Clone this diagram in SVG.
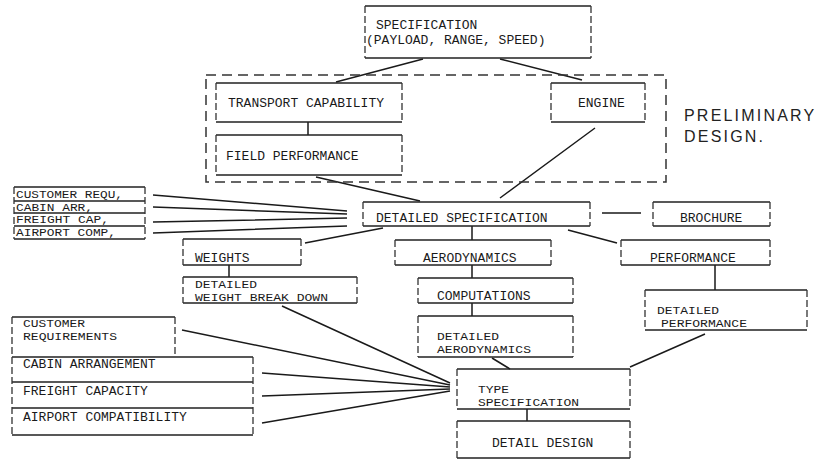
<svg xmlns="http://www.w3.org/2000/svg" width="817" height="466" viewBox="0 0 817 466">
<style>
.h{stroke:#222;stroke-width:1.6;fill:none}
.v{stroke:#333;stroke-width:1.3;fill:none;stroke-dasharray:7 3}
.c{stroke:#1a1a1a;stroke-width:1.5;fill:none}
.t{font-family:"Liberation Mono","DejaVu Sans Mono",monospace;font-size:13px;fill:#1a1a1a}
.s{font-family:"Liberation Mono","DejaVu Sans Mono",monospace;font-size:11.5px;fill:#1a1a1a}
.m{font-family:"Liberation Mono","DejaVu Sans Mono",monospace;font-size:10.5px;fill:#1a1a1a}
.hand{font-family:"Liberation Sans","DejaVu Sans",sans-serif;font-size:16px;fill:#222;letter-spacing:2.2px}
</style>
<rect width="817" height="466" fill="#fff"/>
<g id="connectors">
<path class="c" d="M423 59L336 82M500 59L582 80M308 122V135M316 177L420 201M595 128L500 198"/>
<path class="c" d="M153 195L347 211M153 207L347 214M153 222L347 218M153 233L347 226"/>
<path class="c" d="M383 228L305 243M472 226V240M568 230L617 243M602 213H641M715 265V290M705 334L630 367M472 265V278M472 303V316M492 358L510 369M527 409V421M229 265V277"/>
<path class="c" d="M282 306L450 383M182 330L450 385M262 373L450 387M262 396L450 389M262 423L450 391"/>
</g>
<g id="preliminary">
<rect x="206" y="75" width="460" height="107" fill="none" stroke="#333" stroke-width="1.5" stroke-dasharray="10 6"/>
<text class="hand" x="684" y="121">PRELIMINARY</text>
<text class="hand" x="684" y="142">DESIGN.</text>
</g>
<g id="spec">
<path class="h" d="M365 6H591M365 58H591"/><path class="v" d="M365 6V58M591 6V58"/>
<text class="t" x="376" y="29">SPECIFICATION</text>
<text class="t" x="366" y="44">(PAYLOAD, RANGE, SPEED)</text>
</g>
<g id="transport">
<path class="h" d="M216 83H402M216 122H402"/><path class="v" d="M216 83V122M402 83V122"/>
<text class="t" x="228" y="107">TRANSPORT CAPABILITY</text>
</g>
<g id="field">
<path class="h" d="M216 135H402M216 175H402"/><path class="v" d="M216 135V175M402 135V175"/>
<text class="t" x="226" y="160">FIELD PERFORMANCE</text>
</g>
<g id="engine">
<path class="h" d="M551 83H645M551 122H645"/><path class="v" d="M551 83V122M645 83V122"/>
<text class="t" x="578" y="107">ENGINE</text>
</g>
<g id="inputs-small">
<path class="h" d="M14 187H145M14 201H145M14 213H145M14 226H145M14 239H145"/><path class="v" d="M14 187V239M145 187V239"/>
<text class="m" x="16" y="198" textLength="107" lengthAdjust="spacingAndGlyphs">CUSTOMER REQU,</text>
<text class="m" x="16" y="210.5" textLength="77" lengthAdjust="spacingAndGlyphs">CABIN ARR,</text>
<text class="m" x="16" y="223" textLength="93" lengthAdjust="spacingAndGlyphs">FREIGHT CAP,</text>
<text class="m" x="16" y="236" textLength="100" lengthAdjust="spacingAndGlyphs">AIRPORT COMP,</text>
</g>
<g id="detailed-spec">
<path class="h" d="M363 202H590M363 226H590"/><path class="v" d="M363 202V226M590 202V226"/>
<text class="t" x="376" y="222">DETAILED SPECIFICATION</text>
</g>
<g id="brochure">
<path class="h" d="M653 202H770M653 226H770"/><path class="v" d="M653 202V226M770 202V226"/>
<text class="t" x="680" y="222">BROCHURE</text>
</g>
<g id="weights">
<path class="h" d="M183 239H301M183 265H301"/><path class="v" d="M183 239V265M301 239V265"/>
<text class="t" x="195" y="262">WEIGHTS</text>
</g>
<g id="weight-breakdown">
<path class="h" d="M183 277H357M183 303H357"/><path class="v" d="M183 277V303M357 277V303"/>
<text class="s" x="195" y="288" textLength="62" lengthAdjust="spacingAndGlyphs">DETAILED</text>
<text class="s" x="195" y="301" textLength="133" lengthAdjust="spacingAndGlyphs">WEIGHT BREAK DOWN</text>
</g>
<g id="aero">
<path class="h" d="M395 240H551M395 265H551"/><path class="v" d="M395 240V265M551 240V265"/>
<text class="t" x="423" y="262">AERODYNAMICS</text>
</g>
<g id="computations">
<path class="h" d="M418 278H573M418 303H573"/><path class="v" d="M418 278V303M573 278V303"/>
<text class="t" x="437" y="300">COMPUTATIONS</text>
</g>
<g id="detailed-aero">
<path class="h" d="M418 316H573M418 357H573"/><path class="v" d="M418 316V357M573 316V357"/>
<text class="s" x="437" y="340" textLength="62" lengthAdjust="spacingAndGlyphs">DETAILED</text>
<text class="s" x="437" y="353" textLength="94" lengthAdjust="spacingAndGlyphs">AERODYNAMICS</text>
</g>
<g id="performance">
<path class="h" d="M621 240H770M621 265H770"/><path class="v" d="M621 240V265M770 240V265"/>
<text class="t" x="650" y="262">PERFORMANCE</text>
</g>
<g id="detailed-perf">
<path class="h" d="M645 290H807M645 330H807"/><path class="v" d="M645 290V330M807 290V330"/>
<text class="s" x="657" y="314" textLength="62" lengthAdjust="spacingAndGlyphs">DETAILED</text>
<text class="s" x="661" y="327" textLength="86" lengthAdjust="spacingAndGlyphs">PERFORMANCE</text>
</g>
<g id="type-spec">
<path class="h" d="M457 369H630M457 409H630"/><path class="v" d="M457 369V409M630 369V409"/>
<text class="s" x="478" y="393" textLength="31" lengthAdjust="spacingAndGlyphs">TYPE</text>
<text class="s" x="478" y="406" textLength="101" lengthAdjust="spacingAndGlyphs">SPECIFICATION</text>
</g>
<g id="detail-design">
<path class="h" d="M457 421H630M457 458H630"/><path class="v" d="M457 421V458M630 421V458"/>
<text class="t" x="492" y="447">DETAIL DESIGN</text>
</g>
<g id="inputs-large">
<path class="h" d="M12 317H175M12 357H253M12 382H253M12 408H253M12 435H253"/>
<path class="v" d="M12 317V435M175 317V357M253 357V435"/>
<text class="s" x="23" y="327" textLength="62" lengthAdjust="spacingAndGlyphs">CUSTOMER</text>
<text class="s" x="23" y="340" textLength="94" lengthAdjust="spacingAndGlyphs">REQUIREMENTS</text>
<text class="t" x="23" y="368">CABIN ARRANGEMENT</text>
<text class="t" x="23" y="395">FREIGHT CAPACITY</text>
<text class="t" x="23" y="421">AIRPORT COMPATIBILITY</text>
</g>
</svg>
